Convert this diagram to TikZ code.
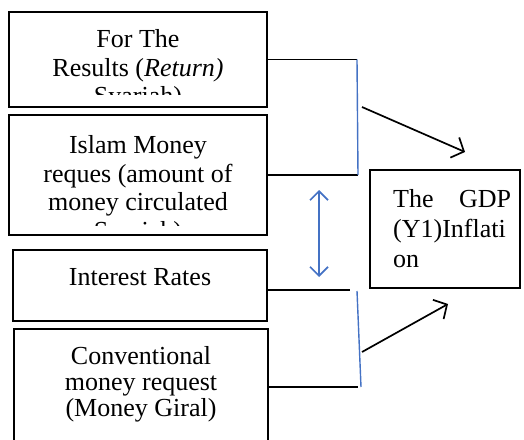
\documentclass[tikz,border=0pt]{standalone}
\usepackage{fontspec}
\setmainfont{Liberation Serif}
\usetikzlibrary{arrows.meta}
\definecolor{linkblue}{RGB}{68,114,196}

\begin{document}
\begin{tikzpicture}[x=1pt,y=-1pt,
		box/.style={draw,line width=1.6pt,inner sep=0pt},
		txt/.style={anchor=north,inner sep=0pt,align=center,font=\fontsize{26}{28.5}\selectfont},
		conn/.style={line width=1.7pt},
		bracket/.style={linkblue,line width=1.4pt},
		barb/.style={-{Straight Barb[length=10pt,width=22pt,line width=1.7pt]}}]
	\useasboundingbox (0,0) rectangle (524,439);
	
	% Define the boxes on the left
	\node[box,minimum width=258pt,minimum height=95pt]  (ret)   at (138,59.5) {};
	\node[box,minimum width=258pt,minimum height=120pt] (islam) at (138,175) {};
	\node[box,minimum width=254pt,minimum height=71pt]  (rates) at (140,285.5) {};
	\node[box,minimum width=254pt,minimum height=130pt] (conv)  at (141,394) {};
	\node[box,minimum width=150pt,minimum height=118pt] (gdp)   at (445,229) {};
	
	% Texts of the boxes, cut off at the bottom as in Word
	\begin{scope}
		\clip (9,12) rectangle (267,94);
		\node[txt] (rettext) at (138,29.5) {For The\\Results (\textit{Return)}\\Syariah)};
	\end{scope}
	\begin{scope}
		\clip (9,115) rectangle (267,225);
		\node[txt] (islamtext) at (138,135.5) {Islam Money\\reques (amount of\\money circulated\\Syariah)};
	\end{scope}
	\node[txt] (ratestext) at (140,268.5) {Interest Rates};
	\node[txt,font=\fontsize{26}{26}\selectfont] (convtext) at (141,346) {Conventional\\money request\\(Money Giral)};
	\node[txt,anchor=north west,align=left,text width=118pt,font=\fontsize{26}{30}\selectfont] (gdptext) at (393,189.5) {The\hfill GDP\\(Y1)Inflati\\on};
	
	% Define the corners of the brackets
	\coordinate (up1) at (357,59.5);
	\coordinate (up2) at (358,175);
	\coordinate (low1) at (350,290);
	\coordinate (low2) at (357,291);
	\coordinate (low3) at (361,387);
	\coordinate (low4) at (358,387);
	
	% Draw the brackets
	\draw[conn] (ret.east) -- (up1);
	\draw[conn] (islam.east) -- (up2);
	\draw[bracket] (up1) -- (up2);
	\draw[conn] (rates.east |- low1) -- (low1);
	\draw[conn] (conv.east |- low4) -- (low4);
	\draw[bracket] (low2) -- (low3);
	
	% Draw the arrows
	\coordinate (arr1s) at (362,107);
	\coordinate (arr1e) at (465,152);
	\coordinate (arr2s) at (362,352);
	\coordinate (arr2e) at (448,304);
	\draw[conn,barb] (arr1s) -- (arr1e);
	\draw[conn,barb] (arr2s) -- (arr2e);
	
	\coordinate (dbl1) at (319,190);
	\coordinate (dbl2) at (319,277);
	\draw[linkblue,line width=1.7pt,{Straight Barb[length=9pt,width=18pt,line width=1.7pt]}-{Straight Barb[length=9pt,width=18pt,line width=1.7pt]}] (dbl1) -- (dbl2);
\end{tikzpicture}
\end{document}
